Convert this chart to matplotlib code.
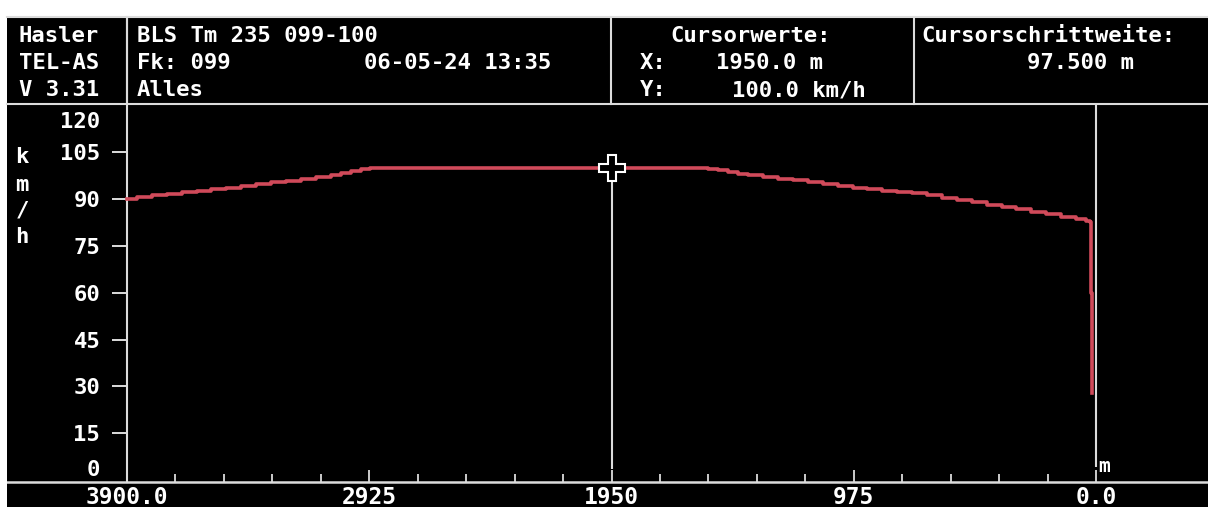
import matplotlib
matplotlib.use('Agg')
import matplotlib.pyplot as plt
import matplotlib.transforms as mtransforms
from matplotlib.lines import Line2D
from matplotlib.patches import Rectangle
from matplotlib.ticker import FixedLocator

dist = [3900, 3860, 3800, 3740, 3680, 3620, 3560, 3500, 3440, 3380, 3320,
        3260, 3200, 3140, 3080, 3040, 3000, 2960, 2920, 1600, 1560, 1520,
        1480, 1440, 1400, 1340, 1280, 1220, 1160, 1100, 1040, 980, 920,
        860, 800, 740, 680, 620, 560, 500, 440, 380, 320, 260, 200, 140,
        80, 40, 25, 22, 19, 17, 16]
speed = [90.0, 90.8, 91.3, 91.8, 92.2, 92.6, 93.1, 93.7, 94.2, 94.8, 95.4,
         95.9, 96.4, 97.0, 97.6, 98.4, 99.0, 99.6, 100.0, 100.0, 99.6, 99.2,
         98.6, 98.0, 97.8, 97.2, 96.5, 96.0, 95.4, 94.8, 94.2, 93.7, 93.2,
         92.7, 92.3, 91.9, 91.3, 90.5, 89.6, 89.0, 88.2, 87.5, 86.7, 85.9,
         85.2, 84.4, 83.6, 83.0, 82.8, 77.0, 60.0, 28.0, 28.0]

x_major = [3900, 2925, 1950, 975, 0]
x_labels = ['3900.0', '2925', '1950', '975', '0.0']
x_minor = list(range(0, 3901, 195))
y_major = [15, 30, 45, 60, 75, 90, 105]

cursor_x = 1950.0
cursor_y = 100.0
step_width = 97.5

header_left = ['Hasler', 'TEL-AS', 'V 3.31']
header_info = ['BLS Tm 235 099-100', 'Fk: 099', 'Alles']
date_text = '06-05-24 13:35'

W, H = 1208, 507
fig = plt.figure(figsize=(W / 100, H / 100), dpi=100, facecolor='black')

def fx(px):
    return px / W

def fy(py):
    return 1 - py / H

FRAME = '#dcdcdc'
RED = '#d04a5a'
FS = 16
FONT = dict(family='DejaVu Sans Mono', weight='bold', color='white')

# white scan border on top and left
fig.patches.append(Rectangle((0, fy(16)), 1, 16 / H, transform=fig.transFigure,
                             facecolor='white', edgecolor='none'))
fig.patches.append(Rectangle((0, 0), fx(7), 1, transform=fig.transFigure,
                             facecolor='white', edgecolor='none'))

# header frame
for y in (17, 104):
    fig.lines.append(Line2D([fx(7), 1], [fy(y), fy(y)], color=FRAME, lw=1.5,
                            transform=fig.transFigure))
for x in (127, 611, 914):
    fig.lines.append(Line2D([fx(x), fx(x)], [fy(17), fy(104)], color=FRAME, lw=1.5,
                            transform=fig.transFigure))

# header text
row_y = [36, 63, 90]
for r in range(3):
    fig.text(fx(19), fy(row_y[r]), header_left[r], ha='left', va='center', size=FS, **FONT)
    fig.text(fx(137), fy(row_y[r]), header_info[r], ha='left', va='center', size=FS, **FONT)
fig.text(fx(364), fy(63), date_text, ha='left', va='center', size=FS, **FONT)
fig.text(fx(670), fy(36), 'Cursorwerte:', ha='left', va='center', size=FS, **FONT)
fig.text(fx(640), fy(63), 'X:', ha='left', va='center', size=FS, **FONT)
fig.text(fx(640), fy(90), 'Y:', ha='left', va='center', size=FS, **FONT)
fig.text(fx(716), fy(63), '%.1f m' % cursor_x, ha='left', va='center', size=FS, **FONT)
fig.text(fx(732), fy(90), '%.1f km/h' % cursor_y, ha='left', va='center', size=FS, **FONT)
fig.text(fx(921), fy(36), 'Cursorschrittweite:', ha='left', va='center', size=FS, **FONT)
fig.text(fx(1027), fy(63), '%.3f m' % step_width, ha='left', va='center', size=FS, **FONT)

# unit letters stacked on the left
for ch, y in zip('km/h', [157, 185, 210, 237]):
    fig.text(fx(22), fy(y), ch, ha='center', va='center', size=FS, **FONT)

# plot area
ax = fig.add_axes([fx(7), fy(482), 1 - fx(7), (482 - 104) / H])
ax.set_facecolor('black')
ax.set_xlim(3900 + 120 / 0.24846, -112 / 0.24846)
ax.set_ylim(-0.64, 120.5)

ax.plot(dist, speed, drawstyle='steps-post', color=RED, lw=2.6, zorder=3)

# cursor
ax.vlines(cursor_x, 3.5, cursor_y, color=FRAME, lw=1.5, zorder=4)
ax.plot(cursor_x, cursor_y, marker='P', ms=19, mfc='black', mec='white', mew=1.5,
        zorder=5)
# end-of-run line at 0 m
ax.vlines(0, 4.2, 120.5, color=FRAME, lw=1.5, zorder=4, clip_on=False)

for s in ('top', 'right'):
    ax.spines[s].set_visible(False)
ax.spines['left'].set_position(('data', 3900))
ax.spines['left'].set_color(FRAME)
ax.spines['left'].set_linewidth(1.5)
ax.spines['bottom'].set_color(FRAME)
ax.spines['bottom'].set_linewidth(1.8)

ax.xaxis.set_major_locator(FixedLocator(x_major))
ax.set_xticklabels(x_labels)
ax.xaxis.set_minor_locator(FixedLocator(x_minor))
ax.tick_params(axis='x', which='major', direction='in', length=9, width=1.3,
               color=FRAME, pad=3, labelsize=16.5, labelcolor='white')
ax.tick_params(axis='x', which='minor', direction='in', length=5.6, width=1.3,
               color=FRAME)
ax.yaxis.set_major_locator(FixedLocator(y_major))
ax.tick_params(axis='y', direction='out', length=10.8, width=1.4, color=FRAME,
               pad=8.5, labelsize=FS, labelcolor='white')
for lab in ax.get_xticklabels() + ax.get_yticklabels():
    lab.set_family('DejaVu Sans Mono')
    lab.set_weight('bold')

# end labels of the speed scale sit inside the range
left_off = mtransforms.offset_copy(ax.transData, fig=fig, x=-27, y=0, units='dots')
ax.text(3900, 114.8, '120', transform=left_off, ha='right', va='center', size=FS,
        **FONT)
ax.text(3900, 3.2, '0', transform=left_off, ha='right', va='center', size=FS, **FONT)
m_off = mtransforms.offset_copy(ax.transData, fig=fig, x=2, y=0, units='dots')
ax.text(0, 4.2, 'm', transform=m_off, ha='left', va='center', size=14, **FONT)

# left axis continues up through the header
fig.lines.append(Line2D([fx(127), fx(127)], [fy(17), fy(104)], color=FRAME, lw=1.5,
                        transform=fig.transFigure))

fig.savefig('out.png', dpi=100, facecolor='black')
